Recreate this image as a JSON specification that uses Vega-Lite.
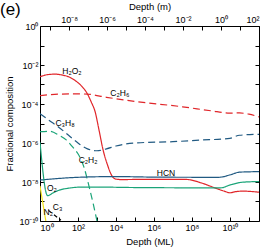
{
  "$schema": "https://vega.github.io/schema/vega-lite/v6.json",
  "width": 219,
  "height": 195,
  "autosize": "none",
  "padding": {"left": 40, "top": 26, "right": 7, "bottom": 29},
  "config": {
    "font": "Liberation Sans",
    "view": {"stroke": "#000", "strokeWidth": 1},
    "axis": {
      "labelFont": "Liberation Sans", "labelFontSize": 9, "labelColor": "#000",
      "titleFont": "Liberation Sans", "titleFontSize": 9.5, "titleFontWeight": "normal", "titleColor": "#000",
      "tickColor": "#000", "tickSize": -4, "labelPadding": 6, "domain": false, "grid": false
    }
  },
  "title": {"text": "(e)", "anchor": "start", "frame": "group", "fontSize": 17, "fontWeight": "normal", "font": "Liberation Sans", "dx": -40, "dy": 22},
  "datasets": {
    "lines": [
      {"s":"H2O2","x":1,"y":2.5e-3},{"s":"H2O2","x":2.5,"y":3.2e-3},{"s":"H2O2","x":6.3,"y":3.4e-3},{"s":"H2O2","x":16,"y":3.0e-3},{"s":"H2O2","x":32,"y":2.5e-3},{"s":"H2O2","x":71,"y":1.6e-3},{"s":"H2O2","x":160,"y":8e-4},{"s":"H2O2","x":280,"y":4e-4},{"s":"H2O2","x":500,"y":1.26e-4},{"s":"H2O2","x":800,"y":4e-5},{"s":"H2O2","x":1260,"y":5e-6},{"s":"H2O2","x":2100,"y":4.4e-7},{"s":"H2O2","x":3500,"y":8e-8},{"s":"H2O2","x":6300,"y":2e-8},{"s":"H2O2","x":10000,"y":1.4e-8},{"s":"H2O2","x":20000,"y":1.33e-8},{"s":"H2O2","x":1e5,"y":1.35e-8},{"s":"H2O2","x":5e7,"y":1.35e-8},{"s":"H2O2","x":3.2e8,"y":8.9e-9},{"s":"H2O2","x":1.6e9,"y":5e-9},{"s":"H2O2","x":5e9,"y":3.4e-9},{"s":"H2O2","x":1e10,"y":2.8e-9},{"s":"H2O2","x":2e10,"y":3.2e-9},{"s":"H2O2","x":5e10,"y":3.4e-9},{"s":"H2O2","x":3.4e11,"y":3e-9},
      {"s":"C2H6","x":1,"y":2.7e-4},{"s":"C2H6","x":10,"y":3.2e-4},{"s":"C2H6","x":100,"y":3.3e-4},{"s":"C2H6","x":316,"y":3.2e-4},{"s":"C2H6","x":3162,"y":2.2e-4},{"s":"C2H6","x":1e5,"y":1.35e-4},{"s":"C2H6","x":3.2e7,"y":7.2e-5},{"s":"C2H6","x":1e9,"y":4.5e-5},{"s":"C2H6","x":1e10,"y":3.4e-5},{"s":"C2H6","x":3.2e10,"y":3.5e-5},{"s":"C2H6","x":1e11,"y":3e-5},{"s":"C2H6","x":3.4e11,"y":2.2e-5},
      {"s":"C3H8","x":1,"y":3.2e-5},{"s":"C3H8","x":3.2,"y":1.4e-5},{"s":"C3H8","x":10,"y":6.3e-6},{"s":"C3H8","x":32,"y":2.5e-6},{"s":"C3H8","x":100,"y":1e-6},{"s":"C3H8","x":316,"y":5e-7},{"s":"C3H8","x":1000,"y":4e-7},{"s":"C3H8","x":3162,"y":5e-7},{"s":"C3H8","x":10000,"y":7e-7},{"s":"C3H8","x":1e5,"y":1e-6},{"s":"C3H8","x":1e7,"y":1.17e-6},{"s":"C3H8","x":2.5e8,"y":1.4e-6},{"s":"C3H8","x":1e10,"y":1.74e-6},{"s":"C3H8","x":3.2e10,"y":2.5e-6},{"s":"C3H8","x":3.4e11,"y":2.8e-6},
      {"s":"C2H2","x":1,"y":3.8e-6},{"s":"C2H2","x":3.2,"y":4e-6},{"s":"C2H2","x":10,"y":2.5e-6},{"s":"C2H2","x":25,"y":1.4e-6},{"s":"C2H2","x":63,"y":5e-7},{"s":"C2H2","x":100,"y":2.8e-7},{"s":"C2H2","x":200,"y":6.3e-8},{"s":"C2H2","x":400,"y":5e-9},{"s":"C2H2","x":630,"y":7.9e-10},{"s":"C2H2","x":1000,"y":1e-10},{"s":"C2H2","x":1120,"y":6e-11},
      {"s":"HCN","x":1,"y":1.26e-8},{"s":"HCN","x":100,"y":1.74e-8},{"s":"HCN","x":10000,"y":1.9e-8},{"s":"HCN","x":1e6,"y":1.78e-8},{"s":"HCN","x":2.5e9,"y":1.74e-8},{"s":"HCN","x":1e10,"y":2.3e-8},{"s":"HCN","x":3.2e10,"y":3.2e-8},{"s":"HCN","x":3.4e11,"y":3.4e-8},
      {"s":"O2","x":1,"y":1.1e-6},{"s":"O2","x":2.5,"y":2e-9},{"s":"O2","x":5,"y":2.8e-9},{"s":"O2","x":10,"y":3.8e-9},{"s":"O2","x":32,"y":4.8e-9},{"s":"O2","x":100,"y":5.4e-9},{"s":"O2","x":1000,"y":5.5e-9},{"s":"O2","x":1e5,"y":5.2e-9},{"s":"O2","x":3.2e9,"y":5e-9},{"s":"O2","x":1e10,"y":7e-9},{"s":"O2","x":3.2e10,"y":9.3e-9},{"s":"O2","x":1e11,"y":1.02e-8},{"s":"O2","x":3.4e11,"y":1.05e-8},
      {"s":"N2","x":1,"y":6.3e-9},{"s":"N2","x":2.1,"y":8e-11},
      {"s":"C3","x":2.8,"y":3.5e-10},{"s":"C3","x":12.6,"y":1.1e-10}
    ],
    "labels": [
      {"t":"H₂O₂","x":48,"y":4.9e-3},
      {"t":"C₂H₆","x":16000,"y":3.8e-4},
      {"t":"C₃H₈","x":21,"y":1.07e-5},
      {"t":"C₂H₂","x":340,"y":1.35e-7},
      {"t":"HCN","x":4.3e6,"y":3e-8},
      {"t":"O₂","x":4.2,"y":4.9e-9},
      {"t":"N₂","x":2.75,"y":3e-10},
      {"t":"C₃","x":8.5,"y":5.4e-10}
    ],
    "frame": [{"m":2.95e-10,"y":1e-10},{"m":100,"y":1}]
  },
  "layer": [
    {
      "encoding": {
        "x": {"field": "x", "type": "quantitative",
          "scale": {"type": "log", "domain": [1, 3.4e11], "nice": false},
          "axis": {"orient": "bottom", "title": "Depth (ML)", "values": [1,10,100,1000,10000,1e5,1e6,1e7,1e8,1e9,1e10,1e11],
            "labelExpr": "round(log(datum.value)/LN10) % 2 == 0 ? '10' + ['⁰','¹','²','³','⁴','⁵','⁶','⁷','⁸','⁹','¹⁰','¹¹'][round(log(datum.value)/LN10)] : ''"}},
        "y": {"field": "y", "type": "quantitative",
          "scale": {"type": "log", "domain": [1e-10, 1], "nice": false},
          "axis": {"orient": "left", "title": "Fractional composition", "values": [1e-10,1e-9,1e-8,1e-7,1e-6,1e-5,1e-4,1e-3,1e-2,1e-1,1],
            "labelExpr": "round(log(datum.value)/LN10) % 2 == 0 ? '10' + (round(log(datum.value)/LN10) < 0 ? '⁻' : '') + ['⁰','¹','²','³','⁴','⁵','⁶','⁷','⁸','⁹','¹⁰','¹¹'][abs(round(log(datum.value)/LN10))] : ''"}}
      },
      "layer": [
        {
          "data": {"name": "lines"},
          "mark": {"type": "line", "strokeWidth": 1.2, "clip": true, "interpolate": "monotone"},
          "encoding": {
            "color": {"field": "s", "type": "nominal", "legend": null,
              "scale": {"domain": ["H2O2","C2H6","C3H8","C2H2","HCN","O2","N2","C3"],
                "range": ["#e0262a","#e0262a","#215a82","#1aa478","#215a82","#1aa478","#f2e41c","#000000"]}},
            "strokeDash": {"field": "s", "type": "nominal", "legend": null,
              "scale": {"domain": ["H2O2","C2H6","C3H8","C2H2","HCN","O2","N2","C3"],
                "range": [[1,0],[7,4],[7,4],[7,4],[1,0],[1,0],[1,0],[4,3]]}}
          }
        },
        {
          "data": {"name": "labels"},
          "mark": {"type": "text", "fontSize": 8.5, "font": "Liberation Sans", "color": "#000"},
          "encoding": {"text": {"field": "t", "type": "nominal"}}
        }
      ]
    },
    {
      "data": {"name": "frame"},
      "mark": {"type": "point", "opacity": 0},
      "encoding": {
        "x": {"field": "m", "type": "quantitative",
          "scale": {"type": "log", "domain": [2.95e-10, 100], "nice": false},
          "axis": {"orient": "top", "title": "Depth (m)", "values": [1e-9,1e-8,1e-7,1e-6,1e-5,1e-4,1e-3,1e-2,1e-1,1,10,100],
            "labelExpr": "round(log(datum.value)/LN10) % 2 == 0 ? '10' + (round(log(datum.value)/LN10) < 0 ? '⁻' : '') + ['⁰','¹','²','³','⁴','⁵','⁶','⁷','⁸','⁹','¹⁰'][abs(round(log(datum.value)/LN10))] : ''"}},
        "y": {"field": "y", "type": "quantitative",
          "scale": {"type": "log", "domain": [1e-10, 1], "nice": false},
          "axis": {"orient": "right", "title": null, "labels": false, "values": [1e-10,1e-9,1e-8,1e-7,1e-6,1e-5,1e-4,1e-3,1e-2,1e-1,1]}}
      }
    }
  ],
  "resolve": {"scale": {"x": "independent"}, "axis": {"x": "independent", "y": "independent"}}
}
